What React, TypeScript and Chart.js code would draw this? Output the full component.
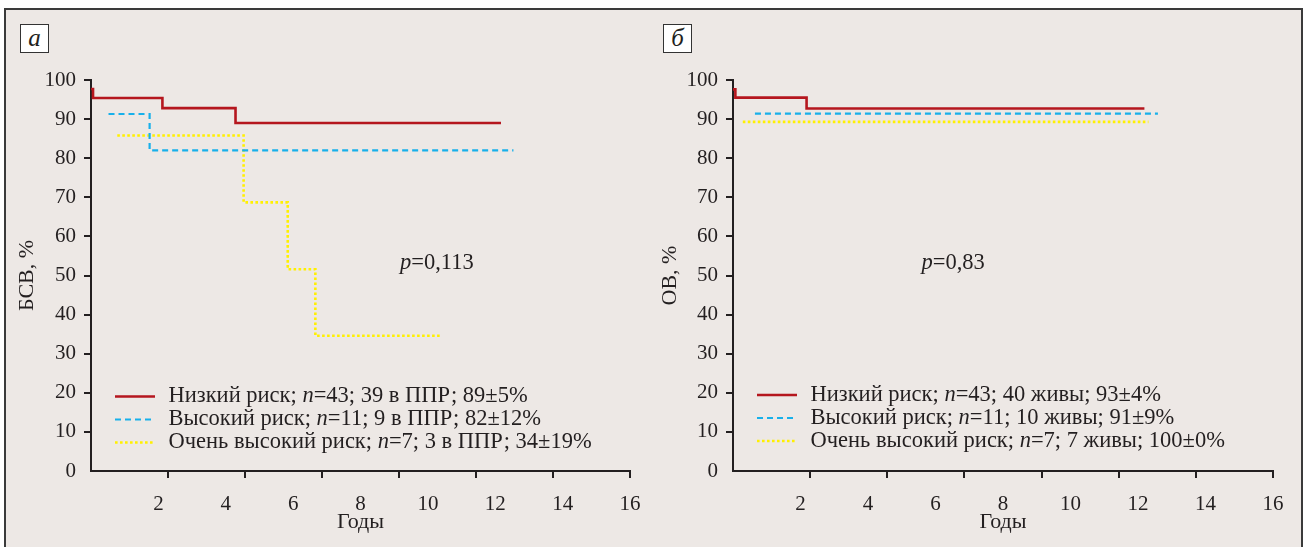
import React, { useEffect, useRef } from 'react';
import { Chart, registerables } from 'chart.js';

Chart.register(...registerables);

const FONT = '"Liberation Serif", "Times New Roman", serif';
const INK = '#231f20';

// ---- Data (years, percent) ----
const efsLowTime = [0, 0.06, 2.12, 4.29, 12.17];
const efsLowValue = [97.7, 95.4, 92.8, 89.0, 89.0];
const efsHighTime = [0.52, 1.74, 12.54];
const efsHighValue = [91.3, 82.0, 82.0];
const efsVeryHighTime = [0.78, 4.53, 5.84, 6.66, 10.35];
const efsVeryHighValue = [85.8, 68.7, 51.6, 34.6, 34.6];

const osLowTime = [0, 0.07, 2.18, 12.19];
const osLowValue = [97.6, 95.5, 92.7, 92.7];
const osHighTime = [0.65, 12.59];
const osHighValue = [91.4, 91.4];
const osVeryHighTime = [0.29, 12.31];
const osVeryHighValue = [89.3, 89.3];

const efsLabels = [
  'Низкий риск; n=43; 39 в ППР; 89±5%',
  'Высокий риск; n=11; 9 в ППР; 82±12%',
  'Очень высокий риск; n=7; 3 в ППР; 34±19%',
];
const osLabels = [
  'Низкий риск; n=43; 40 живы; 93±4%',
  'Высокий риск; n=11; 10 живы; 91±9%',
  'Очень высокий риск; n=7; 7 живы; 100±0%',
];

const efsP = 'p=0,113';
const osP = 'p=0,83';
const efsYTitle = 'БСВ, %';
const osYTitle = 'ОВ, %';
const xTitle = 'Годы';

const xMax = 16;
const xStep = 2;
const yMax = 100;
const yStep = 10;
const tickMarkMax = 14; // tick marks of the original are spaced on a 0..14 grid

// ---- Styles ----
const STYLES = [
  { color: '#b5161e', width: 2.6, dash: [] as number[] },
  { color: '#18b0ea', width: 2.2, dash: [6, 4] },
  { color: '#fff000', width: 2.6, dash: [2.6, 2.4] },
];

function series(times: number[], values: number[]) {
  return times.map((t, i) => ({ x: t, y: values[i] }));
}

function drawRich(ctx: CanvasRenderingContext2D, text: string, x: number, y: number, size: number) {
  const parts = text.split(/([np])(?==)/);
  let cx = x;
  for (const part of parts) {
    if (!part) continue;
    const italic = part === 'n' || part === 'p';
    ctx.font = `${italic ? 'italic ' : ''}${size}px ${FONT}`;
    ctx.fillText(part, cx, y);
    cx += ctx.measureText(part).width;
  }
}

const overlayPlugin = {
  id: 'overlay',
  afterDatasetsDraw(chart: any, _args: any, opts: any) {
    const { ctx, chartArea } = chart;
    ctx.save();
    ctx.fillStyle = INK;
    ctx.textBaseline = 'middle';
    ctx.textAlign = 'left';
    chart.data.datasets.forEach((ds: any, i: number) => {
      const y = chartArea.bottom - opts.legendBottom[i];
      const x0 = chartArea.left + opts.legendLeft;
      ctx.save();
      ctx.strokeStyle = ds.borderColor;
      ctx.lineWidth = ds.borderWidth;
      ctx.setLineDash(ds.borderDash || []);
      ctx.beginPath();
      ctx.moveTo(x0, y);
      ctx.lineTo(x0 + opts.sampleWidth, y);
      ctx.stroke();
      ctx.restore();
      drawRich(ctx, ds.label, x0 + opts.sampleWidth + opts.textGap, y, opts.fontSize);
    });
    drawRich(ctx, opts.pText, chartArea.left + opts.pLeft, chartArea.top + opts.pTop, opts.fontSize);
    ctx.restore();
  },
};

interface PanelSpec {
  labels: string[];
  times: number[][];
  values: number[][];
  yTitle: string;
  yWidth: number;
  yTitlePad: number;
  padRight: number;
  pText: string;
  pLeft: number;
  pTop: number;
  legendBottom: number[];
}

function makeConfig(p: PanelSpec): any {
  const tickFont = { family: FONT, size: 21 };
  const titleFont = { family: FONT, size: 22 };
  return {
    type: 'line',
    data: {
      datasets: p.labels.map((label, i) => ({
        label,
        data: series(p.times[i], p.values[i]),
        borderColor: STYLES[i].color,
        borderWidth: STYLES[i].width,
        borderDash: STYLES[i].dash,
        borderCapStyle: 'butt',
        stepped: 'before',
        pointRadius: 0,
        fill: false,
        xAxisID: 'x',
      })),
    },
    plugins: [overlayPlugin],
    options: {
      responsive: false,
      animation: false,
      devicePixelRatio: 1,
      layout: { padding: { left: 0, top: 80, right: p.padRight, bottom: 0 } },
      plugins: {
        legend: { display: false },
        tooltip: { enabled: false },
        overlay: {
          legendLeft: 24,
          sampleWidth: 40,
          textGap: 13.5,
          legendBottom: p.legendBottom,
          fontSize: 22.5,
          pText: p.pText,
          pLeft: p.pLeft,
          pTop: p.pTop,
        },
      },
      scales: {
        xTicks: {
          type: 'linear',
          position: 'bottom',
          weight: 0,
          min: 0,
          max: tickMarkMax,
          afterFit: (s: any) => { s.height = 7; },
          ticks: { display: false, stepSize: xStep },
          grid: {
            display: true,
            drawOnChartArea: false,
            drawTicks: true,
            tickLength: 7,
            lineWidth: 2,
            color: (c: any) => (c.tick && c.tick.value === 0 ? 'rgba(0,0,0,0)' : INK),
          },
          border: { display: true, color: INK, width: 2 },
        },
        x: {
          type: 'linear',
          position: 'bottom',
          weight: 1,
          min: 0,
          max: xMax,
          afterFit: (s: any) => { s.height = 69; },
          grid: { display: false },
          border: { display: false },
          ticks: {
            stepSize: xStep,
            autoSkip: false,
            maxRotation: 0,
            padding: 6,
            color: INK,
            font: tickFont,
            callback: (v: number) => (v === 0 ? '' : String(v)),
          },
          title: { display: true, text: xTitle, color: INK, font: titleFont, padding: { top: 0, bottom: 12 } },
        },
        y: {
          type: 'linear',
          min: 0,
          max: yMax,
          afterFit: (s: any) => { s.width = p.yWidth; },
          ticks: { stepSize: yStep, padding: 8, color: INK, font: tickFont },
          grid: {
            display: true,
            drawOnChartArea: false,
            drawTicks: true,
            tickLength: 7,
            lineWidth: 2,
            color: (c: any) => (c.tick && c.tick.value === 0 ? 'rgba(0,0,0,0)' : INK),
          },
          border: { display: true, color: INK, width: 2 },
          title: { display: true, text: p.yTitle, color: INK, font: titleFont, padding: { top: p.yTitlePad, bottom: 0 } },
        },
      },
    },
  };
}

const boxStyle: React.CSSProperties = {
  position: 'absolute',
  width: 29,
  height: 29,
  boxSizing: 'border-box',
  border: '1px solid #333',
  background: '#fff',
  fontFamily: FONT,
  fontStyle: 'italic',
  fontSize: 25,
  lineHeight: '25px',
  textAlign: 'center',
  color: INK,
};

export default function App() {
  const leftRef = useRef<HTMLCanvasElement>(null);
  const rightRef = useRef<HTMLCanvasElement>(null);

  useEffect(() => {
    const c1 = new Chart(
      leftRef.current as HTMLCanvasElement,
      makeConfig({
        labels: efsLabels,
        times: [efsLowTime, efsHighTime, efsVeryHighTime],
        values: [efsLowValue, efsHighValue, efsVeryHighValue],
        yTitle: efsYTitle,
        yWidth: 91,
        yTitlePad: 14,
        padRight: 20,
        pText: efsP,
        pLeft: 309,
        pTop: 183,
        legendBottom: [74.5, 51.5, 28.5],
      })
    );
    const c2 = new Chart(
      rightRef.current as HTMLCanvasElement,
      makeConfig({
        labels: osLabels,
        times: [osLowTime, osHighTime, osVeryHighTime],
        values: [osLowValue, osHighValue, osVeryHighValue],
        yTitle: osYTitle,
        yWidth: 83,
        yTitlePad: 7,
        padRight: 33,
        pText: osP,
        pLeft: 188.5,
        pTop: 183,
        legendBottom: [76, 53, 30],
      })
    );
    return () => {
      c1.destroy();
      c2.destroy();
    };
  }, []);

  return (
    <div style={{ position: 'fixed', left: 0, top: 0, width: 1306, height: 547, overflow: 'hidden', background: '#fff' }}>
      <div
        style={{
          position: 'absolute',
          left: 4,
          top: 8,
          width: 1299,
          height: 600,
          boxSizing: 'border-box',
          border: '2px solid #3a3a3a',
          background: '#ede8e5',
        }}
      />
      <div style={{ ...boxStyle, left: 20, top: 24 }}>а</div>
      <div style={{ ...boxStyle, left: 663, top: 24 }}>б</div>
      <canvas ref={leftRef} width={650} height={547} style={{ position: 'absolute', left: 0, top: 0 }} />
      <canvas ref={rightRef} width={656} height={547} style={{ position: 'absolute', left: 650, top: 0 }} />
    </div>
  );
}
